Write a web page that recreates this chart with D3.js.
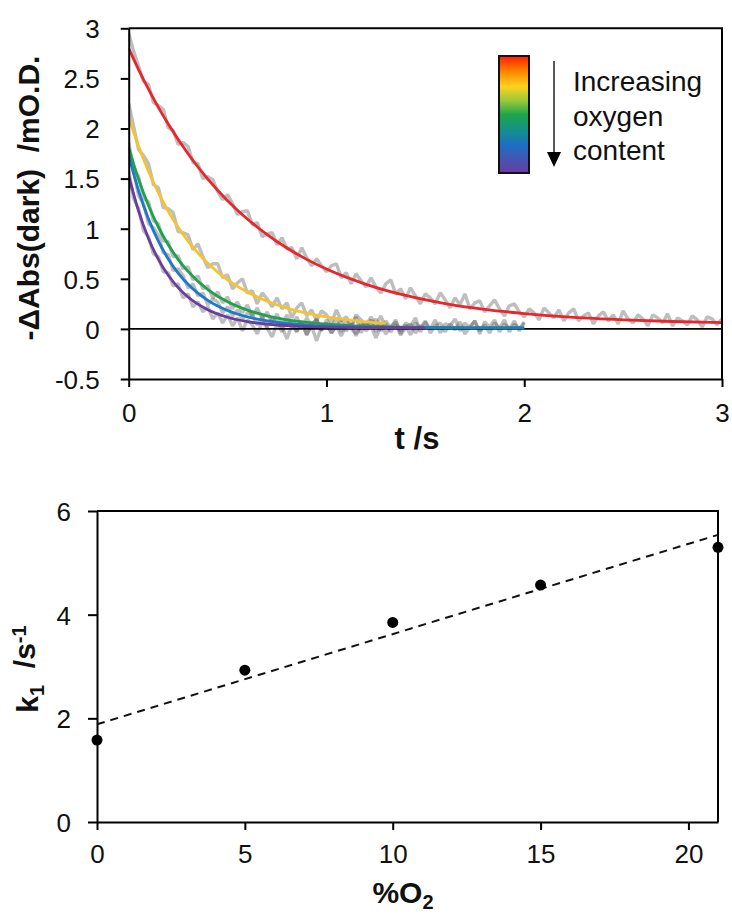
<!DOCTYPE html>
<html>
<head>
  <meta charset="utf-8">
  <style>
    body { margin: 0; background: #fff; }
    svg { font-family: "Liberation Sans", Arial, sans-serif; }
    .axis path, .axis line { stroke: #000; stroke-width: 2; }
    .axis text { font-size: 26px; fill: #111; }
    .title { font-weight: bold; fill: #111; white-space: pre; }
  </style>
</head>
<body>
  <script src="https://cdn.jsdelivr.net/npm/d3@7"></script>
  <script>
    // ---- data: fitted decays (top chart) ----
    var redFitT = [0, 0.05, 0.1, 0.15, 0.2, 0.3, 0.4, 0.5, 0.6, 0.7, 0.8, 0.9, 1.0, 1.2, 1.4, 1.6, 1.8, 2.0, 2.25, 2.5, 2.75, 3.0];
    var redFitV = [2.80, 2.588, 2.392, 2.211, 2.044, 1.748, 1.495, 1.280, 1.097, 0.941, 0.807, 0.694, 0.597, 0.445, 0.334, 0.253, 0.195, 0.153, 0.115, 0.091, 0.074, 0.063];
    var yellowFitT = [0, 0.05, 0.1, 0.15, 0.2, 0.25, 0.3, 0.4, 0.5, 0.6, 0.7, 0.8, 0.9, 1.0, 1.1, 1.2, 1.3];
    var yellowFitV = [2.11, 1.822, 1.573, 1.359, 1.174, 1.014, 0.877, 0.655, 0.490, 0.368, 0.276, 0.208, 0.158, 0.120, 0.092, 0.071, 0.055];
    var greenFitT = [0, 0.05, 0.1, 0.15, 0.2, 0.25, 0.3, 0.4, 0.5, 0.6, 0.7, 0.8, 0.9, 1.0, 1.2, 1.4, 1.6, 1.8, 2.0];
    var greenFitV = [1.81, 1.493, 1.232, 1.017, 0.840, 0.694, 0.574, 0.393, 0.270, 0.187, 0.130, 0.091, 0.065, 0.048, 0.027, 0.018, 0.014, 0.012, 0.011];
    var blueFitT = [0, 0.05, 0.1, 0.15, 0.2, 0.25, 0.3, 0.4, 0.5, 0.6, 0.7, 0.8, 0.9, 1.0, 1.2, 1.4, 1.6, 1.8, 2.0];
    var blueFitV = [1.73, 1.378, 1.098, 0.875, 0.698, 0.557, 0.445, 0.285, 0.184, 0.120, 0.080, 0.054, 0.038, 0.028, 0.017, 0.013, 0.011, 0.010, 0.010];
    var purpleFitT = [0, 0.05, 0.1, 0.15, 0.2, 0.25, 0.3, 0.4, 0.5, 0.6, 0.7, 0.8, 0.9, 1.0, 1.2, 1.5];
    var purpleFitV = [1.53, 1.175, 0.903, 0.694, 0.535, 0.412, 0.318, 0.191, 0.116, 0.072, 0.047, 0.032, 0.023, 0.017, 0.013, 0.011];

    // ---- data: raw traces, one sample every rawStep seconds ----
    var rawStep = 0.025;
    var redRaw = [2.95, 2.77, 2.62, 2.47, 2.44, 2.26, 2.23, 2.19, 2.01, 1.98,
      1.84, 1.86, 1.82, 1.66, 1.65, 1.50, 1.52, 1.49, 1.37, 1.29,
      1.34, 1.25, 1.14, 1.17, 1.18, 1.04, 1.06, 0.92, 0.95, 0.96,
      0.84, 0.91, 0.80, 0.81, 0.70, 0.81, 0.71, 0.63, 0.70, 0.63,
      0.57, 0.63, 0.65, 0.51, 0.56, 0.45, 0.55, 0.48, 0.42, 0.51,
      0.42, 0.36, 0.45, 0.49, 0.35, 0.40, 0.30, 0.41, 0.33, 0.25,
      0.35, 0.31, 0.25, 0.36, 0.29, 0.21, 0.31, 0.24, 0.35, 0.20,
      0.26, 0.28, 0.17, 0.23, 0.29, 0.20, 0.13, 0.23, 0.25, 0.17,
      0.12, 0.20, 0.16, 0.09, 0.21, 0.16, 0.11, 0.19, 0.08, 0.16,
      0.20, 0.08, 0.13, 0.16, 0.05, 0.13, 0.17, 0.08, 0.14, 0.05,
      0.18, 0.10, 0.06, 0.14, 0.10, 0.03, 0.14, 0.11, 0.06, 0.15,
      0.03, 0.11, 0.08, 0.04, 0.13, 0.09, 0.02, 0.12, 0.10, 0.04,
      0.10];
    var yellowRaw = [2.25, 2.02, 1.79, 1.73, 1.65, 1.44, 1.41, 1.21, 1.20, 1.16,
      0.97, 0.96, 0.94, 0.79, 0.85, 0.72, 0.61, 0.65, 0.65, 0.51,
      0.54, 0.40, 0.46, 0.50, 0.36, 0.38, 0.25, 0.36, 0.30, 0.22,
      0.31, 0.20, 0.26, 0.11, 0.21, 0.26, 0.13, 0.19, 0.08, 0.18,
      0.14, 0.06, 0.19, 0.08, 0.12, 0.02, 0.14, 0.09, 0.03, 0.12,
      0.03, 0.13, 0.01];
    var greenRaw = [1.86, 1.60, 1.52, 1.30, 1.27, 1.08, 1.05, 0.88, 0.87, 0.72,
      0.73, 0.60, 0.62, 0.49, 0.53, 0.40, 0.43, 0.31, 0.37, 0.26,
      0.32, 0.20, 0.27, 0.16, 0.24, 0.12, 0.21, 0.10, 0.17, 0.05,
      0.15, 0.04, 0.14, 0.02, 0.12, 0.00, 0.11, 0.03, 0.10, -0.02,
      0.09, 0.01, 0.11, -0.03, 0.08, 0.02, 0.12, -0.04, 0.07, 0.03,
      0.10, -0.02, 0.08, 0.01, 0.09, -0.05, 0.06, 0.02, 0.11, -0.03,
      0.07, 0.00, 0.09, -0.04, 0.05, 0.03, 0.10, -0.02, 0.06, 0.01,
      0.08, -0.05, 0.07, 0.02, 0.09, -0.03, 0.05, 0.00, 0.08, -0.02,
      0.06];
    var blueRaw = [1.78, 1.58, 1.33, 1.25, 1.05, 1.01, 0.93, 0.76, 0.74, 0.58,
      0.60, 0.53, 0.41, 0.45, 0.33, 0.36, 0.24, 0.30, 0.27, 0.16,
      0.22, 0.13, 0.19, 0.09, 0.16, 0.14, 0.04, 0.12, 0.02, 0.11,
      0.07, -0.03, 0.09, 0.05, -0.02, 0.08, -0.06, 0.05, 0.09, -0.01,
      0.06, -0.04, 0.03, 0.08, -0.02, 0.05, -0.07, 0.04, 0.01, 0.09,
      -0.03, 0.05, -0.05, 0.02, 0.07, -0.02, 0.04, -0.06, 0.06, 0.01,
      0.08, -0.04, 0.03, 0.06, -0.03, 0.05, -0.01, 0.07, -0.05, 0.02,
      0.08, -0.02, 0.04, -0.04, 0.06, 0.01, 0.09, -0.03, 0.05, 0.00,
      0.07];
    var purpleRaw = [1.58, 1.30, 1.20, 0.98, 0.92, 0.75, 0.72, 0.57, 0.56, 0.43,
      0.45, 0.31, 0.35, 0.22, 0.27, 0.17, 0.22, 0.10, 0.16, 0.06,
      0.14, 0.03, 0.11, -0.02, 0.09, 0.04, -0.05, 0.07, 0.01, -0.08,
      0.05, 0.02, -0.10, 0.04, -0.03, 0.06, -0.06, 0.03, -0.12, 0.02,
      0.05, -0.04, 0.03, -0.07, 0.04, 0.00, -0.05, 0.06, -0.02, 0.03,
      -0.09, 0.02, 0.05, -0.03, 0.04, -0.06, 0.01, 0.05, -0.04, 0.03,
      0.00];

    // ---- data: rate constants (bottom chart) ----
    var o2Percent = [0, 5, 10, 15, 21];
    var k1Values = [1.58, 2.93, 3.85, 4.57, 5.30];
    var k1FitX = [0, 21];
    var k1FitY = [1.885, 5.54];

    var topYTicks = [-0.5, 0, 0.5, 1, 1.5, 2, 2.5, 3];
    var topXTicks = [0, 1, 2, 3];
    var botYTicks = [0, 2, 4, 6];
    var botXTicks = [0, 5, 10, 15, 20];
    var legendLines = ["Increasing", "oxygen", "content"];

    var plain = function(d) { return String(d); };

    var svg = d3.select("body").append("svg")
      .attr("width", 732)
      .attr("height", 917);

    // ================= top chart =================
    var xTop = d3.scaleLinear().domain([0, 3]).range([128.7, 722]);
    var yTop = d3.scaleLinear().domain([-0.5, 3]).range([379, 28.3]);

    svg.append("clipPath").attr("id", "clipTop")
      .append("rect")
      .attr("x", xTop(0)).attr("y", yTop(3))
      .attr("width", xTop(3) - xTop(0)).attr("height", yTop(-0.5) - yTop(3));

    var topPlot = svg.append("g").attr("clip-path", "url(#clipTop)");

    var rawLine = d3.line()
      .x(function(d, i) { return xTop(i * rawStep); })
      .y(function(d) { return yTop(d); });

    [redRaw, yellowRaw, greenRaw, blueRaw, purpleRaw].forEach(function(trace) {
      topPlot.append("path")
        .datum(trace)
        .attr("d", rawLine)
        .attr("fill", "none")
        .attr("stroke", "#4a4a4a")
        .attr("stroke-opacity", 0.36)
        .attr("stroke-width", 3.4)
        .attr("stroke-linejoin", "bevel");
    });

    // zero line
    topPlot.append("line")
      .attr("x1", xTop(0)).attr("x2", xTop(3))
      .attr("y1", yTop(0)).attr("y2", yTop(0))
      .attr("stroke", "#000").attr("stroke-width", 1.6);

    var fits = [
      {t: redFitT, v: redFitV, color: "#e8262b"},
      {t: yellowFitT, v: yellowFitV, color: "#f4c430"},
      {t: greenFitT, v: greenFitV, color: "#1fa24a"},
      {t: blueFitT, v: blueFitV, color: "#1f78c8"},
      {t: purpleFitT, v: purpleFitV, color: "#6a3d9e"}
    ];

    var fitLine = d3.line().curve(d3.curveMonotoneX);
    fits.forEach(function(f) {
      var pts = f.t.map(function(t, i) { return [xTop(t), yTop(f.v[i])]; });
      topPlot.append("path")
        .attr("d", fitLine(pts))
        .attr("fill", "none")
        .attr("stroke", f.color)
        .attr("stroke-width", 2.8);
    });

    // axes
    svg.append("g")
      .attr("class", "axis")
      .attr("transform", "translate(" + xTop(0) + ",0)")
      .call(d3.axisLeft(yTop).tickValues(topYTicks).tickSize(8).tickSizeOuter(0)
        .tickPadding(21).tickFormat(plain))
      .selectAll("text").attr("dy", "0.36em");

    svg.append("g")
      .attr("class", "axis")
      .attr("transform", "translate(0," + yTop(-0.5) + ")")
      .call(d3.axisBottom(xTop).tickValues(topXTicks).tickSize(8).tickSizeOuter(0)
        .tickPadding(17).tickFormat(plain));

    // frame top / right
    svg.append("path")
      .attr("d", d3.line()([[xTop(0), yTop(3)], [xTop(3), yTop(3)], [xTop(3), yTop(-0.5)]]))
      .attr("fill", "none").attr("stroke", "#000").attr("stroke-width", 2);

    svg.append("text")
      .attr("class", "title")
      .attr("transform", "translate(39,198) rotate(-90)")
      .attr("text-anchor", "middle")
      .style("font-size", "30px")
      .text("-\u0394Abs(dark)  /mO.D.");

    svg.append("text")
      .attr("class", "title")
      .attr("x", 417).attr("y", 449)
      .attr("text-anchor", "middle")
      .style("font-size", "31px")
      .text("t /s");

    // legend
    var grad = svg.append("defs").append("linearGradient")
      .attr("id", "rainbow")
      .attr("x1", 0).attr("y1", 0).attr("x2", 0).attr("y2", 1);
    [[0, "#ff1e00"], [0.14, "#ff8a00"], [0.26, "#ffd21e"], [0.38, "#9cc83a"],
     [0.5, "#1fa64a"], [0.64, "#13908e"], [0.76, "#1d6fc4"], [1, "#6b3aa2"]]
      .forEach(function(s) {
        grad.append("stop").attr("offset", s[0]).attr("stop-color", s[1]);
      });

    svg.append("rect")
      .attr("x", 499).attr("y", 56)
      .attr("width", 30).attr("height", 117)
      .attr("fill", "url(#rainbow)")
      .attr("stroke", "#111").attr("stroke-width", 2);

    svg.append("line")
      .attr("x1", 554).attr("x2", 554)
      .attr("y1", 61).attr("y2", 154)
      .attr("stroke", "#222").attr("stroke-width", 1.5);
    svg.append("path")
      .attr("d", "M547,152 L561,152 L554,167 Z")
      .attr("fill", "#000");

    svg.append("g").selectAll("text")
      .data(legendLines)
      .enter().append("text")
      .attr("x", 573)
      .attr("y", function(d, i) { return 91 + i * 34.7; })
      .style("font-size", "28px")
      .attr("fill", "#111")
      .text(function(d) { return d; });

    // ================= bottom chart =================
    var xBot = d3.scaleLinear().domain([0, 21]).range([97, 718]);
    var yBot = d3.scaleLinear().domain([0, 6]).range([822, 511]);

    svg.append("g")
      .attr("class", "axis")
      .attr("transform", "translate(" + xBot(0) + ",0)")
      .call(d3.axisLeft(yBot).tickValues(botYTicks).tickSize(9).tickSizeOuter(0)
        .tickPadding(17).tickFormat(plain))
      .selectAll("text").attr("dy", "0.36em");

    svg.append("g")
      .attr("class", "axis")
      .attr("transform", "translate(0," + yBot(0) + ")")
      .call(d3.axisBottom(xBot).tickValues(botXTicks).tickSize(8).tickSizeOuter(0)
        .tickPadding(15).tickFormat(plain));

    svg.append("path")
      .attr("d", d3.line()([[xBot(0), yBot(6)], [xBot(21), yBot(6)], [xBot(21), yBot(0)]]))
      .attr("fill", "none").attr("stroke", "#000").attr("stroke-width", 2);

    svg.append("line")
      .attr("x1", xBot(k1FitX[0])).attr("y1", yBot(k1FitY[0]))
      .attr("x2", xBot(k1FitX[1])).attr("y2", yBot(k1FitY[1]))
      .attr("stroke", "#111").attr("stroke-width", 2)
      .attr("stroke-dasharray", "8,6");

    svg.append("g").selectAll("circle")
      .data(o2Percent)
      .enter().append("circle")
      .attr("cx", function(d) { return xBot(d); })
      .attr("cy", function(d, i) { return yBot(k1Values[i]); })
      .attr("r", 5.5)
      .attr("fill", "#000");

    var xt = svg.append("text")
      .attr("class", "title")
      .attr("x", 403).attr("y", 903)
      .attr("text-anchor", "middle")
      .style("font-size", "30px");
    xt.append("tspan").text("%O");
    xt.append("tspan").attr("dy", "0.3em").style("font-size", "20px").text("2");

    var yt = svg.append("text")
      .attr("class", "title")
      .attr("transform", "translate(38,669) rotate(-90)")
      .attr("text-anchor", "middle")
      .style("font-size", "30px");
    yt.append("tspan").text("k");
    yt.append("tspan").attr("dy", "0.3em").style("font-size", "20px").text("1");
    yt.append("tspan").attr("dy", "-0.3em").text("  /s");
    yt.append("tspan").attr("dy", "-0.45em").style("font-size", "20px").text("-1");
  </script>
</body>
</html>
